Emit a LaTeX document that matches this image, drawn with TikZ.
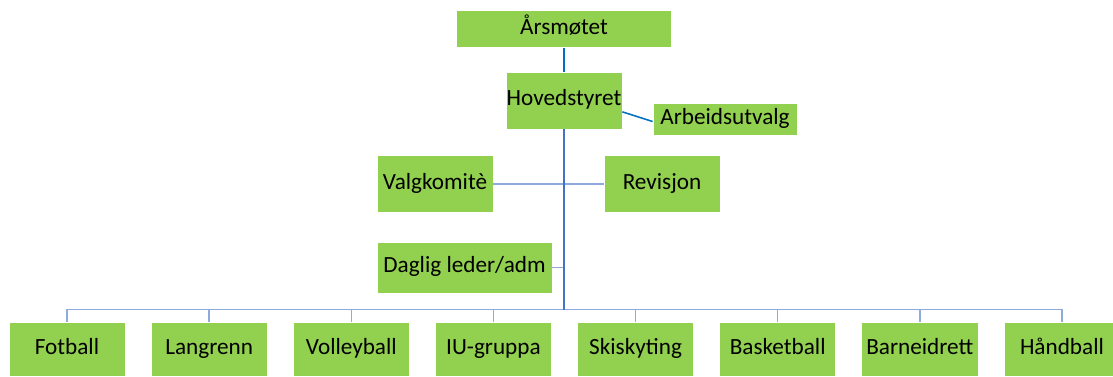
\documentclass[tikz,border=0pt]{standalone}
\usepackage{fontspec}
\setmainfont{Carlito}
\usepackage{tikz}
\definecolor{boxgreen}{HTML}{92D050}
\definecolor{topblue}{HTML}{0070C0}
\definecolor{trunkblue}{HTML}{4472C4}
\definecolor{busblue}{HTML}{8FAADC}
\tikzset{
  orgbox/.style={fill=boxgreen, draw=white, line width=0.5pt, inner sep=0pt,
    text height=10.6pt, text depth=3.4pt,
    minimum width=2.9cm, minimum height=1.425cm, font=\fontsize{16.5}{20}\selectfont},
  topline/.style={topblue, line width=1.1pt},
  trunk/.style={trunkblue, line width=1.5pt},
  busline/.style={busblue, line width=1pt}
}

\begin{document}
\begin{tikzpicture}[x=0.025cm, y=-0.025cm]
\useasboundingbox (0,0) rectangle (1113,376);

% --- Top ---
\node[orgbox, minimum width=5.375cm, minimum height=0.925cm] (aars) at (564,29) {Årsmøtet};
\node[orgbox] (hoved) at (564,100.5) {Hovedstyret};
\node[orgbox, minimum width=3.6cm, minimum height=0.8cm] (arb) at (725,119) {Arbeidsutvalg};

% --- Staff ---
\node[orgbox] (valg) at (435,184) {Valgkomitè};
\node[orgbox] (rev) at (662,184) {Revisjon};
\node[orgbox, minimum width=4.375cm, minimum height=1.275cm] (daglig) at (464.5,267.5) {Daglig leder/adm};

% --- Groups ---
\foreach \i/\val in {0/Fotball,1/Langrenn,2/Volleyball,3/IU-gruppa,4/Skiskyting,5/Basketball,6/Barneidrett,7/Håndball} {
  \node[orgbox, minimum height=1.35cm] (g\i) at (67+142.14*\i,349) {\val};
}

\coordinate (bus) at (564,309.5);

% connections
\draw[topline] (aars) -- (hoved);
\draw[topline] (hoved.-11) -- (arb.182);
\draw[busline] (valg) -- (rev);
\draw[busline] (daglig.east) -- (daglig.east -| bus);
\foreach \i in {0,...,7} {
  \draw[busline] (bus) -| (g\i.north);
}
\draw[trunk] (hoved.south) -- (bus);

\end{tikzpicture}
\end{document}
